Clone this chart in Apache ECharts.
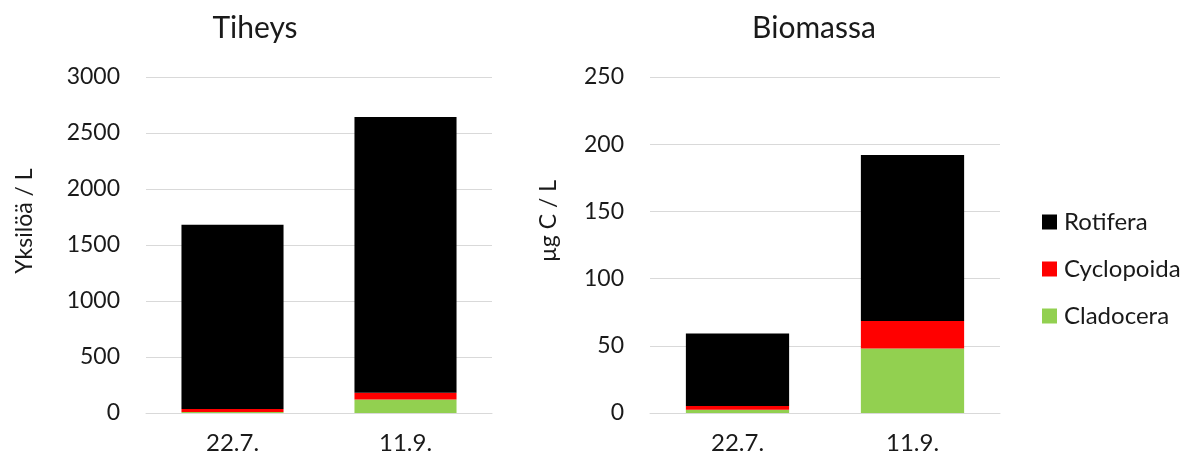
<!DOCTYPE html>
<html>
<head>
<meta charset="utf-8">
<script src="https://cdn.jsdelivr.net/npm/echarts@6/dist/echarts.min.js"></script>
<style>
  html, body { margin: 0; padding: 0; background: #fff; }
  #chart { width: 1188px; height: 460px; }
</style>
</head>
<body>
<div id="chart"></div>
<script>
// Sampling dates
const dates = ['22.7.', '11.9.'];

// Density (individuals per litre)
const tiheysCladocera = [10, 120];
const tiheysCyclopoida = [25, 60];
const tiheysRotifera = [1645, 2462];

// Biomass (µg C per litre)
const biomassaCladocera = [2.5, 48];
const biomassaCyclopoida = [2.7, 20.5];
const biomassaRotifera = [54, 123.5];

// Axis ticks
const tiheysTicks = { min: 0, max: 3000, interval: 500 };
const biomassaTicks = { min: 0, max: 250, interval: 50 };

const FONT = 'Lato, "Open Sans", sans-serif';
const TEXT = '#1a1a1a';
const colors = { Rotifera: '#000000', Cyclopoida: '#ff0000', Cladocera: '#92d050' };

const chart = echarts.init(document.getElementById('chart'), null, { renderer: 'canvas' });

function xAxis(gridIndex) {
  return {
    type: 'category', gridIndex, data: dates,
    axisLine: { lineStyle: { color: '#d9d9d9', width: 1 } },
    axisTick: { show: false },
    axisLabel: { color: TEXT, fontSize: 24, fontFamily: FONT, margin: 18 }
  };
}
function yAxis(gridIndex, ticks, name, nameGap) {
  return {
    type: 'value', gridIndex, min: ticks.min, max: ticks.max, interval: ticks.interval,
    name, nameLocation: 'middle', nameGap, nameRotate: 90,
    // left padding lifts the rotated title a little above the plot's middle
    nameTextStyle: { color: TEXT, fontSize: 23, fontFamily: FONT, padding: [0, 0, 0, 48] },
    axisLine: { show: false }, axisTick: { show: false },
    axisLabel: { color: TEXT, fontSize: 23, fontFamily: FONT, margin: 26,
                 formatter: v => String(v) },
    splitLine: { lineStyle: { color: '#d9d9d9', width: 1 } }
  };
}
function bar(name, data, axisIndex, stack) {
  return {
    name, type: 'bar', stack, data,
    xAxisIndex: axisIndex, yAxisIndex: axisIndex,
    barWidth: '59%',
    itemStyle: { color: colors[name] },
    emphasis: { disabled: true }
  };
}

chart.setOption({
  animation: false,
  textStyle: { fontFamily: FONT },
  title: [
    { text: 'Tiheys', left: 250, top: 8, textAlign: 'center',
      textStyle: { fontSize: 30, fontWeight: 'normal', color: TEXT, fontFamily: FONT } },
    { text: 'Biomassa', left: 809, top: 8, textAlign: 'center',
      textStyle: { fontSize: 30, fontWeight: 'normal', color: TEXT, fontFamily: FONT } }
  ],
  legend: {
    orient: 'vertical', left: 1037, top: 205, itemGap: 23,
    itemWidth: 15, itemHeight: 15, icon: 'rect',
    data: ['Rotifera', 'Cyclopoida', 'Cladocera'],
    textStyle: { fontSize: 24, color: TEXT, fontFamily: FONT, padding: [0, 0, 0, 2] }
  },
  grid: [
    { left: 146, right: 696, top: 77, bottom: 47 },
    { left: 650, right: 188, top: 77, bottom: 47 }
  ],
  xAxis: [xAxis(0), xAxis(1)],
  yAxis: [yAxis(0, tiheysTicks, 'Yksilöä / L', 110), yAxis(1, biomassaTicks, 'µg C / L', 90)],
  series: [
    bar('Cladocera', tiheysCladocera, 0, 't'),
    bar('Cyclopoida', tiheysCyclopoida, 0, 't'),
    bar('Rotifera', tiheysRotifera, 0, 't'),
    bar('Cladocera', biomassaCladocera, 1, 'b'),
    bar('Cyclopoida', biomassaCyclopoida, 1, 'b'),
    bar('Rotifera', biomassaRotifera, 1, 'b')
  ]
});
</script>
</body>
</html>
